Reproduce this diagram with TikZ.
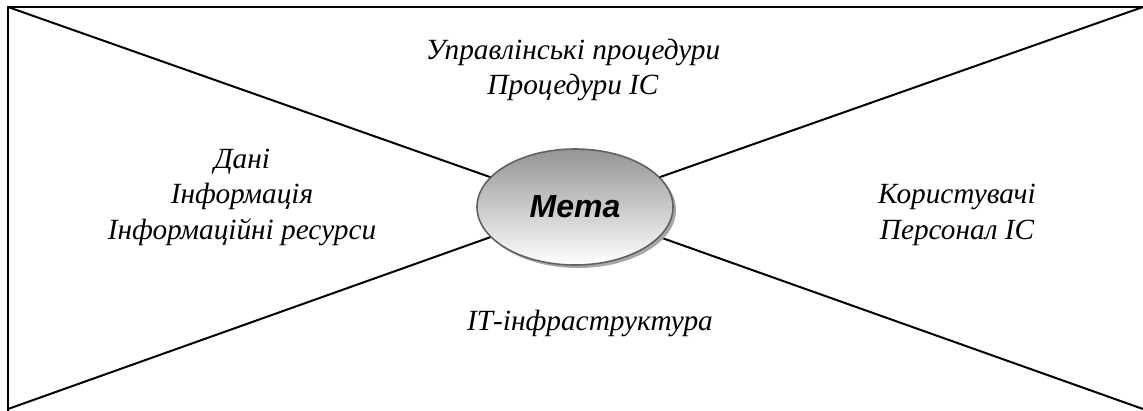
\documentclass[tikz,border=0pt]{standalone}
\usepackage{fontspec}
\setmainfont{Liberation Serif}
\newfontfamily\metafont{Liberation Sans}
\usetikzlibrary{shadows,shapes.geometric}
\tikzset{
  lbl/.style={font=\fontsize{29.3}{35.5}\selectfont\itshape, align=center, inner sep=0pt},
  edge/.style={line width=2pt, black},
  goal/.style={ellipse, draw=black!62, line width=1.6pt, minimum width=196pt, minimum height=116pt,
     top color=black!42, bottom color=white, inner sep=0pt,
     drop shadow={shadow xshift=3pt, shadow yshift=-3pt, fill=black!35, opacity=1}},
}
\begin{document}
\begin{tikzpicture}[x=1pt,y=-1pt]
\useasboundingbox (0,0) rectangle (1143,410);
\clip (0,0) rectangle (1143,410);
\coordinate (tl) at (8,7);
\coordinate (tr) at (1143,7);
\coordinate (bl) at (8,409);
\coordinate (br) at (1143,409);
\coordinate (c) at (575,207);
\draw[edge] (tl) rectangle (1150,420);
\draw[edge] (tl) -- (c);
\draw[edge] (tr) -- (c);
\draw[edge] (bl) -- (c);
\draw[edge] (br) -- (c);
\node[goal] (g) at (c) {\raisebox{-7pt}{\metafont\bfseries\itshape\fontsize{32}{32}\selectfont Мета}};
\node[lbl] (top) at (573,70) {Управлінські процедури\\Процедури ІС};
\node[lbl] (left) at (242,197) {Дані\\Інформація\\Інформаційні ресурси};
\node[lbl] (right) at (957,215) {Користувачі\\Персонал ІС};
\node[lbl] (bottom) at (590,323) {ІТ-інфраструктура};
\end{tikzpicture}
\end{document}
